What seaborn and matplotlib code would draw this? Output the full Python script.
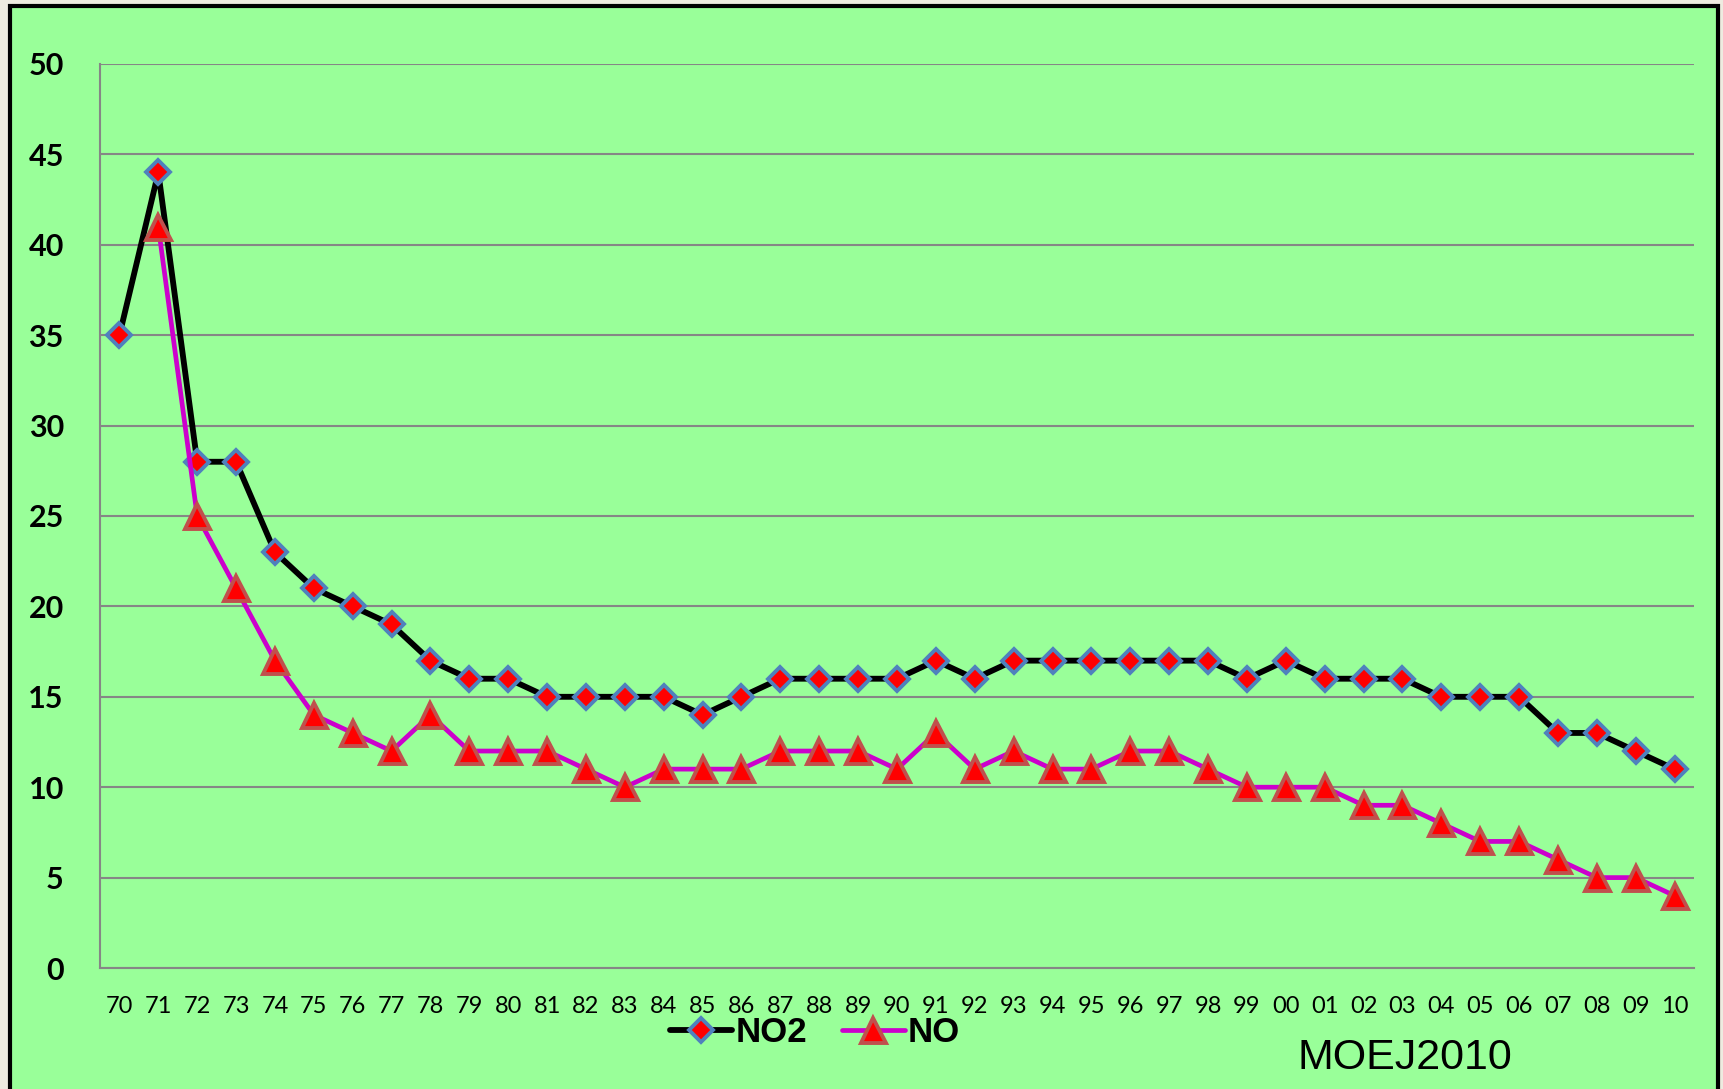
import numpy as np
import pandas as pd
import seaborn as sns
import matplotlib.pyplot as plt
from matplotlib.patches import Rectangle
from matplotlib.lines import Line2D

years = ["70", "71", "72", "73", "74", "75", "76", "77", "78", "79",
         "80", "81", "82", "83", "84", "85", "86", "87", "88", "89",
         "90", "91", "92", "93", "94", "95", "96", "97", "98", "99",
         "00", "01", "02", "03", "04", "05", "06", "07", "08", "09", "10"]
no2 = [35, 44, 28, 28, 23, 21, 20, 19, 17, 16,
       16, 15, 15, 15, 15, 14, 15, 16, 16, 16,
       16, 17, 16, 17, 17, 17, 17, 17, 17, 16,
       17, 16, 16, 16, 15, 15, 15, 13, 13, 12, 11]
no = [np.nan, 41, 25, 21, 17, 14, 13, 12, 14, 12,
      12, 12, 11, 10, 11, 11, 11, 12, 12, 12,
      11, 13, 11, 12, 11, 11, 12, 12, 11, 10,
      10, 10, 9, 9, 8, 7, 7, 6, 5, 5, 4]

sns.set_style("white")
plt.rcParams["font.family"] = ["Lato", "DejaVu Sans"]
plt.rcParams["text.color"] = "black"
plt.rcParams["xtick.color"] = "black"
plt.rcParams["ytick.color"] = "black"

green = "#99FF99"
grid = "#868686"

fig = plt.figure(figsize=(17.23, 10.89), dpi=100, facecolor="#EEEBE0")
frame = Rectangle((10 / 1723, -0.05), 1708 / 1723, 1.05 - 6 / 1089,
                  transform=fig.transFigure, facecolor=green,
                  edgecolor="black", linewidth=3, zorder=-10)
fig.patches.append(frame)

ax = fig.add_axes([100 / 1723, 1 - 968 / 1089, 1594 / 1723, 904 / 1089])
ax.set_facecolor(green)

df = pd.DataFrame({"idx": np.arange(len(years)), "NO2": no2, "NO": no})

sns.lineplot(data=df, x="idx", y="NO2", ax=ax, color="black", linewidth=4.2,
             marker="D", markersize=12.5, markerfacecolor="red",
             markeredgecolor="#4F81BD", markeredgewidth=2.8, zorder=4)
sns.lineplot(data=df, x="idx", y="NO", ax=ax, color="#CC00CC", linewidth=3.4,
             marker="^", markersize=18, markerfacecolor="red",
             markeredgecolor="#C0504D", markeredgewidth=2.8, zorder=5)

ax.set_xlim(-0.5, len(years) - 0.5)
ax.set_ylim(0, 50)
ax.set_yticks(range(0, 51, 5))
ax.set_yticklabels([str(v) for v in range(0, 51, 5)], fontsize=22, fontweight="bold")
ax.set_xticks(np.arange(len(years)))
ax.set_xticklabels(years, fontsize=17)
ax.set_xticks(np.arange(len(years) + 1) - 0.5, minor=True)
ax.tick_params(axis="x", which="major", length=0, pad=20, labelcolor="black")
ax.tick_params(axis="x", which="minor", length=7, width=1.5, color=grid, direction="out")
ax.tick_params(axis="y", length=10, width=1.5, color=grid, direction="out", pad=16,
               labelcolor="black")
ax.yaxis.grid(True, color=grid, linewidth=1.5)
ax.xaxis.grid(False)
ax.set_axisbelow(True)
for s in ["top", "right"]:
    ax.spines[s].set_visible(False)
for s in ["left", "bottom"]:
    ax.spines[s].set_color(grid)
    ax.spines[s].set_linewidth(1.5)
ax.set_xlabel("")
ax.set_ylabel("")
if ax.get_legend() is not None:
    ax.get_legend().remove()

handles = [
    Line2D([], [], color="black", linewidth=4.2, marker="D", markersize=12.5,
           markerfacecolor="red", markeredgecolor="#4F81BD", markeredgewidth=2.8),
    Line2D([], [], color="#CC00CC", linewidth=3.4, marker="^", markersize=18,
           markerfacecolor="red", markeredgecolor="#C0504D", markeredgewidth=2.8),
]
fig.legend(handles, ["NO2", "NO"], loc="center", bbox_to_anchor=(815 / 1723, 1 - 1033 / 1089),
           ncol=2, frameon=False, handlelength=1.8, handletextpad=0.1, columnspacing=1.0,
           labelcolor="black",
           prop={"family": ["Liberation Sans", "DejaVu Sans"], "weight": "bold", "size": 25})

fig.text(1405 / 1723, 1 - 1058 / 1089, "MOEJ2010", ha="center", va="center", fontsize=31,
         color="black", family=["Liberation Sans", "DejaVu Sans"])

fig.savefig("out.png", dpi=100, facecolor=fig.get_facecolor())
